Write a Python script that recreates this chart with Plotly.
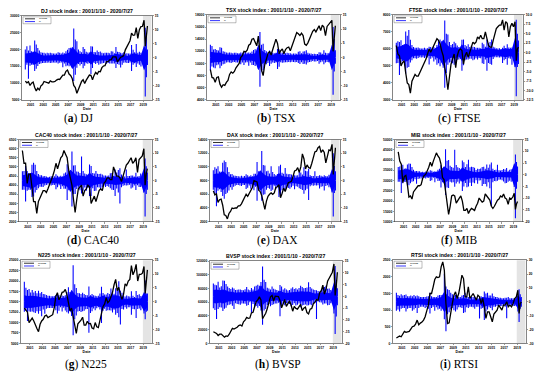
import plotly.graph_objects as go

W, H = 550, 381

NAMES = ["DJ", "TSX", "FTSE", "CAC40", "DAX", "MIB", "N225", "BVSP", "RTSI"]
LETTERS = ["a", "b", "c", "d", "e", "f", "g", "h", "i"]
TITLE_SUFFIX = " stock index : 2001/1/10 - 2020/7/27"

# quarterly sampling dates (decimal years) and half-year dates for the dense return core
DATES_Q = [round(2001.03 + 0.25 * i, 2) for i in range(77)] + [2020.22, 2020.40, 2020.57]
DATES_H = [round(2001.03 + 0.5 * i, 2) for i in range(40)]

YEAR_LABELS = ["2001", "2003", "2005", "2007", "2009", "2011", "2013", "2015", "2017", "2019"]
YEAR_POS = [2001.9, 2003.9, 2005.9, 2007.9, 2009.9, 2011.9, 2013.9, 2015.9, 2017.9, 2019.9]

# ---------------- closing prices (quarterly readings) ----------------
CLOSE_DJ = [10600, 10100, 10400, 9300, 10000, 10300, 8700, 7700, 8500, 8000, 9200, 9600,
            10500, 10400, 10200, 10000, 10700, 10400, 10400, 10500, 10900, 11200, 11100, 11900,
            12400, 12400, 13500, 13900, 12700, 12300, 11400, 9300, 8700, 7000, 8400, 9700,
            10500, 11000, 9900, 10900, 11700, 12400, 12300, 11000, 12300, 13200, 12700, 13500,
            13400, 14600, 15100, 15200, 16400, 16400, 16900, 17000, 17800, 17800, 17800, 16300,
            17000, 17700, 17900, 18200, 19900, 20700, 21400, 22600, 24900, 24200, 24300, 26500,
            23300, 25900, 26800, 26900, 28700, 21000, 24000, 27000]
CLOSE_TSX = [9000, 7700, 7600, 6900, 7700, 7800, 6600, 6100, 6500, 6400, 6900, 7200,
             8200, 8600, 8400, 8700, 9300, 9600, 10000, 11000, 11300, 12000, 11900, 12200,
             13000, 13200, 14000, 14100, 13500, 12900, 14500, 11800, 8900, 8000, 9800, 10700,
             11600, 12000, 11400, 12300, 13300, 14000, 13300, 11600, 12100, 12400, 11600, 12300,
             12600, 12700, 12100, 12800, 13600, 14300, 15100, 14900, 14600, 15000, 14600, 13200,
             13000, 13400, 14100, 14600, 15300, 15600, 15200, 15700, 16200, 15400, 16300, 16000,
             14600, 16100, 16400, 16700, 17100, 12000, 15200, 16200]
CLOSE_FTSE = [6200, 5700, 5600, 5000, 5200, 5300, 4600, 4000, 3900, 3400, 4100, 4300,
              4500, 4400, 4400, 4600, 4800, 4900, 5200, 5400, 5700, 6000, 5800, 6000,
              6200, 6300, 6600, 6500, 6300, 5900, 5600, 4900, 4400, 3600, 4300, 5100,
              5400, 5700, 4900, 5600, 5900, 6000, 5900, 5100, 5600, 5800, 5500, 5800,
              6000, 6400, 6300, 6400, 6700, 6600, 6800, 6600, 6600, 7000, 6600, 6200,
              6100, 6100, 6500, 6900, 7200, 7300, 7400, 7400, 7700, 7100, 7600, 7500,
              6700, 7300, 7500, 7300, 7600, 5300, 6000, 6100]
CLOSE_CAC40 = [5900, 5200, 5200, 4100, 4600, 4600, 3900, 3100, 3100, 2450, 3100, 3300,
               3600, 3700, 3700, 3600, 3800, 4000, 4300, 4500, 4800, 5200, 4900, 5200,
               5500, 5600, 5900, 5700, 5500, 4800, 4400, 4000, 3200, 2500, 3200, 3800,
               3900, 4000, 3400, 3700, 3800, 4000, 3900, 3000, 3200, 3400, 3100, 3400,
               3700, 3800, 3700, 4100, 4200, 4400, 4400, 4300, 4300, 5000, 4800, 4500,
               4500, 4400, 4200, 4500, 4900, 5100, 5200, 5400, 5500, 5200, 5300, 5500,
               4700, 5400, 5500, 5600, 6000, 4000, 4600, 4900]
CLOSE_DAX = [6500, 5900, 6100, 4800, 5200, 5300, 4400, 3000, 2900, 2400, 3200, 3500,
             4000, 3900, 4000, 4000, 4300, 4300, 4600, 5000, 5400, 6000, 5700, 6100,
             6700, 7000, 8000, 7900, 7800, 6600, 6400, 5800, 4800, 3800, 5000, 5700,
             6000, 6200, 6000, 6200, 7000, 7100, 7400, 5500, 6100, 6900, 6400, 7200,
             7700, 7800, 7900, 8600, 9400, 9500, 9900, 9200, 10000, 11900, 11200, 9700,
             10300, 9900, 9800, 10500, 11500, 12200, 12300, 12800, 13000, 12100, 12500, 12100,
             10600, 11500, 12500, 12400, 13300, 8900, 11500, 12800]
CLOSE_MIB = [44000, 39500, 38000, 29000, 32000, 32500, 28000, 22000, 22500, 21000, 24500, 25500,
             27000, 27500, 27500, 28000, 31000, 32500, 33000, 34500, 36500, 39000, 37000, 39500,
             41500, 43500, 42000, 41000, 38000, 31500, 30500, 24000, 18500, 13500, 17500, 22500,
             23000, 22500, 19000, 20500, 21500, 22500, 20000, 15500, 15500, 16500, 14000, 15500,
             16500, 16000, 15500, 17500, 19000, 21500, 20500, 19500, 20000, 23500, 22500, 21500,
             20500, 17500, 16500, 17500, 19500, 20500, 21000, 22500, 22000, 23500, 21500, 21000,
             18500, 21500, 21000, 22000, 23800, 16000, 18600, 19800]
CLOSE_N225 = [13500, 12900, 12500, 10000, 10500, 11100, 10400, 9300, 8600, 7800, 9600, 10400,
              10800, 11600, 11800, 11200, 11500, 11700, 11900, 13600, 16300, 17200, 15500, 16200,
              17300, 17400, 18000, 16800, 15000, 12800, 13500, 11200, 8900, 7400, 9700, 10100,
              10600, 11300, 9400, 9400, 10300, 9700, 9800, 8700, 8500, 10000, 9000, 8800,
              10700, 12400, 13900, 14500, 16000, 14800, 15200, 16200, 17300, 19100, 20400, 17700,
              18500, 16800, 15600, 16800, 19300, 18900, 20000, 20400, 23700, 21500, 22400, 24000,
              20000, 21600, 21600, 21900, 23500, 17000, 21000, 22700]
CLOSE_BVSP = [17000, 15500, 14500, 11500, 13500, 13500, 11500, 9000, 10900, 10300, 13400, 17000,
              22000, 21000, 22000, 23500, 26000, 27000, 25500, 31500, 34000, 38000, 36500, 37000,
              44500, 45500, 53500, 61000, 63500, 68000, 63500, 36000, 40000, 44000, 51000, 62000,
              68000, 70000, 62000, 69000, 69000, 68500, 62500, 52000, 58000, 64000, 54000, 59000,
              62000, 56000, 47000, 54000, 51000, 50000, 53000, 57000, 48000, 51500, 53000, 45000,
              43000, 50000, 51000, 58000, 60000, 64000, 63000, 74000, 77000, 85000, 72000, 79000,
              91000, 95000, 100000, 104000, 116000, 70000, 85000, 104000]
CLOSE_RTSI = [160, 180, 220, 200, 270, 360, 330, 340, 360, 430, 500, 520,
              580, 700, 560, 610, 640, 700, 800, 980, 1150, 1500, 1500, 1700,
              1920, 2000, 1980, 2000, 2300, 2450, 2200, 1200, 600, 620, 950, 1200,
              1450, 1550, 1350, 1500, 1770, 2050, 1950, 1400, 1400, 1700, 1350, 1450,
              1500, 1400, 1300, 1450, 1400, 1200, 1350, 1100, 750, 950, 950, 800,
              650, 880, 930, 1000, 1150, 1050, 1000, 1150, 1150, 1250, 1100, 1150,
              1100, 1200, 1350, 1400, 1600, 900, 1200, 1250]

# ---------------- returns R (%): quarterly highs / lows ----------------
R_UP_DJ = [3.0, 4.2, 2.6, 4.4, 2.4, 2.2, 6.2, 4.8, 3.5, 2.6, 2.0, 1.8, 1.8, 1.6, 1.8, 1.7,
           1.8, 1.7, 1.6, 1.6, 1.6, 2.0, 1.8, 1.6, 1.9, 1.7, 2.4, 2.9, 3.5, 3.6, 2.8, 10.5,
           6.6, 5.9, 3.0, 2.4, 2.0, 3.9, 3.2, 2.2, 1.9, 1.9, 4.2, 4.1, 2.1, 2.0, 2.6, 2.1,
           2.3, 1.8, 1.7, 1.8, 1.8, 1.8, 1.7, 2.4, 2.3, 1.7, 3.9, 2.2, 2.1, 1.8, 1.7, 2.0,
           1.6, 1.7, 1.6, 1.6, 4.6, 2.9, 2.0, 5.0, 1.8, 2.2, 1.8, 1.7, 1.9, 10.8, 7.5, 3.0]
R_DN_DJ = [-4.1, -2.4, -7.4, -2.8, -2.4, -2.5, -4.7, -3.9, -2.9, -2.2, -2.0, -1.8, -1.8, -1.7, -1.7, -1.6,
           -1.8, -1.7, -1.6, -1.7, -1.6, -2.0, -1.7, -1.6, -3.3, -2.0, -3.0, -2.7, -3.0, -2.6, -2.9, -8.2,
           -6.0, -3.5, -2.2, -2.7, -2.2, -3.7, -2.8, -1.9, -2.1, -1.8, -5.7, -3.6, -1.8, -2.2, -1.8, -2.4,
           -2.1, -2.0, -1.8, -1.7, -2.1, -1.8, -2.0, -2.0, -2.0, -2.0, -3.6, -2.2, -2.4, -3.4, -2.4, -1.7,
           -1.6, -1.8, -1.8, -1.6, -4.7, -2.4, -1.9, -3.2, -2.0, -2.4, -3.1, -2.0, -3.2, -13.8, -6.9, -2.5]
R_CORE_DJ = [1.6, 1.8, 1.8, 2.4, 1.6, 1.1, 0.9, 0.9, 0.9, 0.9, 0.9, 1.0, 1.1, 1.5, 1.8, 4.0, 2.8, 1.6, 1.3, 1.6,
             1.1, 2.4, 1.2, 1.0, 0.9, 0.9, 0.9, 0.9, 1.0, 1.5, 1.3, 0.9, 0.7, 0.7, 1.5, 1.7, 1.2, 1.0, 4.5, 2.0]

R_UP_TSX = [4.5, 4.0, 2.8, 3.0, 2.6, 2.4, 3.6, 3.4, 2.2, 2.0, 1.7, 1.6, 1.7, 1.6, 1.5, 1.6,
            1.6, 1.5, 1.5, 1.7, 1.6, 2.0, 1.8, 1.6, 1.7, 1.6, 2.1, 2.6, 2.9, 2.0, 3.4, 9.0,
            4.5, 4.8, 2.6, 2.2, 1.8, 2.4, 2.0, 1.6, 1.5, 1.6, 3.0, 2.8, 1.7, 1.6, 1.7, 1.5,
            1.6, 1.5, 1.5, 1.3, 1.4, 1.4, 1.3, 2.0, 2.2, 1.5, 2.1, 2.2, 2.5, 1.6, 1.4, 1.4,
            1.2, 1.3, 1.2, 1.2, 1.8, 1.7, 1.3, 2.5, 1.6, 1.5, 1.5, 1.4, 1.5, 10.7, 6.5, 2.5]
R_DN_TSX = [-4.5, -3.2, -3.6, -3.8, -2.8, -2.5, -3.8, -2.9, -2.4, -2.2, -1.8, -1.7, -1.8, -2.0, -1.7, -1.6,
            -1.8, -1.8, -1.7, -2.4, -1.8, -2.7, -1.8, -1.7, -2.9, -1.8, -2.7, -2.7, -3.0, -2.2, -4.0, -10.3,
            -5.0, -4.5, -2.4, -2.4, -2.0, -3.0, -2.2, -1.8, -2.0, -1.8, -4.1, -3.3, -1.7, -1.9, -1.8, -1.7,
            -1.7, -1.6, -1.7, -1.5, -1.6, -1.7, -1.6, -2.0, -2.3, -1.7, -2.3, -2.2, -2.5, -1.8, -1.6, -1.5,
            -1.3, -1.4, -1.4, -1.3, -2.2, -1.7, -1.4, -2.4, -1.8, -1.6, -1.7, -1.6, -1.9, -13.2, -5.0, -2.2]
R_CORE_TSX = [2.0, 1.8, 1.6, 1.7, 1.2, 1.0, 0.9, 0.9, 0.9, 1.0, 1.0, 1.0, 1.0, 1.2, 1.5, 4.5, 2.5, 1.6, 1.1, 1.1,
              1.0, 1.8, 1.0, 0.9, 0.8, 0.8, 0.8, 0.9, 1.1, 1.1, 1.1, 0.8, 0.6, 0.6, 0.9, 1.0, 0.8, 0.8, 4.5, 1.8]

R_UP_FTSE = [2.6, 3.0, 2.8, 3.3, 2.0, 2.2, 5.6, 4.5, 6.0, 3.4, 2.0, 1.5, 1.3, 1.3, 1.4, 1.2,
             1.1, 1.1, 1.3, 1.1, 1.2, 1.6, 1.5, 1.2, 1.5, 1.2, 2.0, 3.0, 3.5, 3.0, 3.0, 8.5,
             5.0, 4.8, 2.8, 2.0, 2.3, 2.9, 2.5, 1.9, 1.5, 1.5, 3.4, 3.5, 2.0, 1.7, 2.2, 1.5,
             1.8, 1.6, 1.5, 1.3, 1.3, 1.3, 1.2, 2.6, 2.2, 1.6, 3.5, 2.5, 2.8, 3.5, 1.6, 1.4,
             1.2, 1.1, 1.2, 1.0, 1.3, 1.8, 1.2, 2.2, 1.4, 1.3, 1.4, 1.8, 1.6, 8.7, 5.0, 3.2]
R_DN_FTSE = [-2.8, -2.7, -5.9, -2.6, -2.2, -2.4, -5.5, -4.0, -3.8, -2.6, -2.0, -1.5, -1.5, -1.6, -1.4, -1.2,
             -1.3, -1.2, -1.4, -1.2, -1.3, -3.1, -1.6, -1.3, -2.3, -1.8, -3.2, -2.8, -3.6, -2.6, -4.0, -9.3,
             -5.4, -3.2, -2.6, -2.5, -2.8, -3.2, -2.6, -1.9, -1.8, -1.6, -4.8, -3.3, -2.0, -1.8, -1.8, -1.6,
             -1.6, -2.0, -1.8, -1.5, -1.8, -1.4, -1.5, -2.8, -3.0, -1.8, -4.8, -2.7, -3.0, -3.2, -1.7, -1.2,
             -1.2, -1.2, -1.3, -1.2, -2.7, -2.0, -1.7, -3.2, -1.5, -1.6, -3.2, -2.1, -3.8, -11.5, -3.8, -3.0]
R_CORE_FTSE = [1.5, 1.7, 1.8, 2.4, 2.0, 1.1, 0.8, 0.8, 0.7, 0.7, 0.8, 0.9, 0.9, 1.5, 1.9, 3.5, 2.3, 1.5, 1.3, 1.5,
               1.0, 2.2, 1.1, 0.9, 0.9, 0.9, 0.8, 1.0, 1.0, 1.4, 1.2, 1.0, 0.7, 0.7, 1.0, 1.2, 1.0, 1.0, 4.0, 1.8]

R_UP_CAC40 = [3.4, 3.5, 5.3, 3.5, 2.8, 2.8, 5.8, 6.5, 5.8, 3.5, 2.4, 2.0, 2.0, 1.6, 1.7, 1.5,
              1.3, 1.4, 1.6, 1.4, 1.6, 2.3, 1.8, 1.5, 1.8, 1.5, 2.6, 3.0, 6.0, 3.6, 3.3, 10.6,
              5.5, 5.6, 3.3, 3.2, 2.8, 8.8, 3.5, 2.6, 2.3, 2.1, 5.9, 5.3, 2.8, 2.6, 3.5, 2.5,
              2.4, 2.5, 2.2, 1.9, 1.9, 1.8, 1.9, 2.7, 2.8, 1.8, 4.1, 3.0, 3.9, 4.5, 2.2, 1.6,
              1.5, 4.1, 1.7, 1.7, 1.9, 1.9, 1.5, 2.9, 1.5, 1.7, 2.6, 2.1, 2.5, 8.1, 5.2, 3.0]
R_DN_CAC40 = [-3.3, -3.3, -7.6, -3.7, -3.3, -3.3, -6.0, -5.8, -4.3, -3.4, -2.8, -2.2, -2.2, -2.3, -1.8, -1.6,
              -1.4, -1.5, -1.8, -1.6, -1.6, -3.2, -2.4, -1.7, -3.1, -2.1, -3.0, -3.0, -7.1, -3.5, -4.0, -9.5,
              -5.0, -4.9, -3.1, -2.6, -3.5, -4.7, -3.7, -2.5, -3.7, -2.5, -5.6, -5.6, -2.8, -3.8, -3.7, -2.4,
              -2.5, -3.0, -2.4, -1.8, -2.3, -2.0, -2.2, -2.8, -3.3, -3.4, -5.6, -2.9, -4.3, -8.4, -2.4, -1.9,
              -1.7, -1.8, -1.7, -1.5, -2.9, -2.5, -1.8, -3.4, -1.7, -2.3, -2.3, -2.0, -4.3, -13.1, -4.9, -3.3]
R_CORE_CAC40 = [2.0, 2.2, 2.4, 3.0, 2.3, 1.3, 1.1, 1.0, 0.9, 0.9, 1.0, 1.1, 1.2, 1.6, 2.2, 4.0, 2.8, 1.9, 1.9, 1.7,
                1.5, 3.0, 1.8, 1.4, 1.2, 1.1, 1.0, 1.2, 1.3, 1.6, 1.4, 1.3, 0.8, 0.8, 1.0, 1.2, 1.1, 1.0, 4.5, 2.0]

R_UP_DAX = [3.8, 4.9, 4.3, 5.2, 3.3, 3.2, 6.5, 7.3, 6.8, 4.9, 3.1, 2.3, 2.4, 1.9, 1.8, 1.7,
            1.6, 1.5, 1.8, 1.5, 1.7, 2.3, 2.0, 1.6, 2.0, 1.6, 2.5, 2.5, 6.8, 3.4, 3.4, 10.8,
            5.7, 5.5, 3.4, 3.6, 2.6, 5.2, 3.1, 2.4, 2.0, 2.4, 5.2, 5.8, 2.9, 2.5, 4.6, 2.5,
            2.3, 2.4, 2.2, 1.8, 2.0, 1.9, 2.0, 3.1, 3.0, 2.2, 4.9, 3.6, 3.4, 4.3, 2.0, 1.7,
            1.7, 3.4, 1.6, 1.7, 2.0, 1.8, 1.5, 2.0, 1.7, 1.6, 2.1, 1.8, 2.3, 10.0, 5.3, 3.4]
R_DN_DAX = [-3.3, -4.6, -9.4, -3.7, -3.2, -4.2, -5.6, -6.6, -4.9, -4.4, -3.6, -2.4, -3.3, -2.2, -1.9, -1.6,
            -1.6, -1.8, -2.0, -1.6, -1.6, -3.1, -2.6, -1.8, -3.0, -2.1, -3.5, -2.2, -7.4, -3.1, -3.1, -7.4,
            -5.2, -5.0, -3.3, -2.7, -3.0, -3.8, -3.3, -1.9, -3.2, -2.0, -6.0, -5.4, -3.5, -3.5, -3.4, -2.3,
            -2.7, -3.0, -2.4, -1.9, -3.2, -2.1, -2.2, -2.8, -3.1, -3.4, -4.8, -3.5, -3.0, -7.1, -2.1, -1.7,
            -1.9, -1.7, -1.8, -1.7, -2.9, -2.2, -2.1, -3.6, -2.0, -1.7, -2.4, -2.2, -4.3, -13.1, -4.5, -3.6]
R_CORE_DAX = [2.3, 2.6, 2.6, 3.5, 2.6, 1.5, 1.2, 1.0, 0.9, 0.9, 1.0, 1.1, 1.2, 1.5, 2.0, 3.8, 2.6, 1.7, 1.5, 1.4,
              1.4, 2.8, 1.7, 1.4, 1.2, 1.0, 1.0, 1.1, 1.3, 1.7, 1.4, 1.3, 0.8, 0.8, 1.0, 1.2, 1.0, 1.0, 4.3, 2.0]

R_UP_MIB = [3.3, 3.5, 3.8, 4.3, 2.6, 2.8, 4.4, 4.8, 4.7, 3.3, 2.1, 1.6, 1.6, 1.5, 1.5, 1.2,
            1.3, 1.1, 1.4, 1.3, 1.4, 1.9, 1.7, 1.3, 1.5, 1.3, 2.1, 2.5, 4.0, 2.6, 3.2, 10.9,
            6.0, 6.3, 3.8, 3.3, 3.0, 10.7, 4.1, 3.2, 2.9, 2.2, 6.1, 5.3, 3.3, 4.5, 6.4, 3.2,
            3.4, 3.3, 3.0, 2.0, 2.5, 2.4, 2.7, 3.3, 3.4, 2.5, 4.4, 3.0, 4.4, 5.2, 2.5, 2.0,
            2.1, 4.3, 1.9, 1.8, 2.0, 2.4, 2.2, 2.9, 1.7, 2.1, 2.3, 2.4, 2.7, 8.6, 5.4, 3.5]
R_DN_MIB = [-3.0, -3.0, -7.8, -3.6, -3.0, -3.1, -4.6, -4.5, -3.6, -3.0, -2.8, -1.9, -3.8, -1.8, -1.6, -1.6,
            -1.2, -1.4, -1.6, -1.3, -1.4, -2.7, -2.4, -1.3, -3.2, -1.6, -2.7, -2.6, -5.4, -3.2, -3.7, -8.6,
            -5.4, -5.6, -3.0, -3.3, -3.2, -5.1, -3.7, -3.0, -3.7, -2.8, -6.9, -5.0, -3.5, -5.3, -5.0, -3.4,
            -4.8, -3.3, -3.6, -2.3, -3.8, -2.5, -2.4, -4.8, -4.0, -4.0, -5.0, -3.2, -5.8, -13.3, -3.2, -2.7,
            -2.8, -2.6, -2.1, -2.0, -2.3, -2.9, -3.6, -3.5, -3.0, -2.6, -3.0, -2.8, -5.2, -18.5, -6.0, -3.0]
R_CORE_MIB = [1.8, 2.0, 2.0, 2.4, 2.0, 1.2, 0.9, 0.8, 0.7, 0.7, 0.8, 0.9, 1.0, 1.4, 2.0, 3.6, 2.8, 1.8, 1.7, 1.8,
              1.6, 3.2, 2.2, 1.8, 1.4, 1.2, 1.1, 1.4, 1.5, 1.9, 1.8, 1.5, 1.0, 1.0, 1.2, 1.3, 1.2, 1.2, 5.0, 2.2]

R_UP_N225 = [7.2, 5.1, 4.3, 4.6, 3.4, 4.3, 3.4, 3.9, 3.1, 4.0, 3.1, 3.5, 2.8, 2.7, 2.5, 2.2,
             2.2, 2.0, 2.0, 2.1, 2.5, 2.8, 2.4, 2.1, 2.3, 2.1, 2.4, 3.5, 5.3, 3.5, 3.7, 13.2,
             6.3, 5.0, 3.2, 3.1, 2.8, 3.3, 2.8, 2.5, 2.4, 5.5, 2.4, 2.8, 2.4, 2.2, 2.0, 2.2,
             3.0, 5.4, 3.2, 2.6, 2.6, 3.2, 2.8, 4.8, 3.8, 2.9, 4.9, 4.0, 7.4, 4.0, 3.3, 2.3,
             1.9, 2.3, 2.0, 1.9, 3.8, 2.2, 1.7, 3.9, 2.5, 2.7, 2.1, 1.9, 2.4, 7.7, 3.0, 3.0]
R_DN_N225 = [-3.6, -3.3, -6.9, -3.5, -3.6, -3.5, -3.8, -4.0, -3.4, -4.3, -3.3, -5.2, -2.8, -4.3, -2.5, -2.2,
             -2.2, -2.2, -2.2, -2.2, -3.0, -4.2, -3.2, -2.0, -3.5, -2.1, -3.1, -3.8, -4.2, -3.4, -5.1, -12.1,
             -6.3, -4.9, -3.5, -3.3, -3.7, -3.4, -3.2, -2.7, -2.6, -11.2, -4.0, -3.4, -2.4, -3.0, -2.3, -2.0,
             -2.8, -7.6, -3.2, -2.5, -3.2, -3.0, -3.0, -3.1, -3.9, -2.9, -4.7, -4.0, -5.6, -8.2, -2.6, -2.8,
             -2.0, -2.5, -2.0, -2.0, -4.7, -2.6, -2.7, -5.8, -2.6, -2.4, -3.0, -1.9, -4.2, -6.3, -3.6, -3.2]
R_CORE_N225 = [2.4, 2.1, 2.2, 2.2, 2.0, 1.7, 1.5, 1.3, 1.2, 1.5, 1.6, 1.3, 1.4, 1.6, 2.0, 4.4, 2.8, 1.8, 1.6, 1.6,
               1.5, 2.2, 1.6, 1.4, 1.7, 2.3, 1.7, 1.9, 2.4, 2.4, 2.2, 1.4, 1.1, 1.1, 1.4, 1.4, 1.3, 1.2, 3.5, 2.0]

R_UP_BVSP = [5.5, 5.0, 4.8, 6.3, 3.8, 4.3, 6.8, 6.7, 5.3, 4.2, 3.6, 3.2, 3.8, 3.4, 2.8, 2.9,
             3.0, 3.0, 2.8, 2.6, 3.1, 4.0, 3.0, 2.6, 3.6, 3.0, 4.2, 4.6, 5.0, 4.6, 6.2, 12.8,
             7.1, 6.2, 3.7, 3.4, 3.0, 4.2, 3.3, 3.0, 2.8, 2.4, 4.9, 4.2, 3.0, 3.5, 3.0, 2.5,
             2.8, 3.4, 3.9, 3.2, 3.5, 3.0, 3.6, 4.6, 4.0, 3.5, 3.6, 3.8, 6.1, 4.0, 3.4, 3.0,
             2.8, 2.6, 2.3, 2.1, 2.5, 3.8, 4.0, 4.6, 3.3, 3.4, 2.7, 2.3, 2.8, 13.0, 6.5, 3.5]
R_DN_BVSP = [-5.0, -5.8, -9.6, -5.4, -4.6, -4.7, -6.2, -5.2, -4.8, -3.8, -3.5, -3.3, -4.0, -5.4, -2.9, -3.2,
             -3.3, -3.5, -3.0, -3.0, -3.1, -4.0, -3.6, -2.5, -7.0, -3.2, -4.5, -4.1, -4.8, -4.1, -6.0, -12.1,
             -6.0, -5.3, -3.6, -3.2, -4.2, -3.6, -3.3, -3.0, -3.0, -2.7, -8.4, -3.7, -3.0, -3.8, -2.8, -2.9,
             -3.2, -4.2, -3.6, -2.9, -3.9, -3.5, -3.0, -4.6, -3.9, -3.6, -3.4, -3.9, -3.8, -3.4, -3.8, -3.0,
             -2.5, -9.6, -2.2, -2.5, -2.6, -3.4, -3.0, -3.0, -3.8, -3.6, -2.9, -2.7, -7.3, -16.0, -8.5, -3.8]
R_CORE_BVSP = [2.8, 3.0, 2.6, 3.0, 2.6, 2.0, 2.0, 1.6, 1.8, 1.7, 2.0, 1.7, 2.0, 2.3, 2.6, 4.8, 3.0, 2.2, 1.8, 1.7,
               1.6, 2.4, 1.8, 1.5, 1.7, 1.9, 1.8, 2.0, 2.2, 2.0, 2.1, 1.7, 1.3, 1.4, 1.7, 1.9, 1.5, 1.4, 6.0, 2.6]

R_UP_RTSI = [6.5, 5.0, 4.3, 5.5, 4.5, 5.0, 5.3, 4.0, 4.0, 4.5, 4.0, 5.0, 4.0, 4.5, 4.0, 3.5,
             3.5, 3.5, 3.5, 3.8, 4.0, 6.5, 4.0, 3.5, 3.5, 3.5, 4.5, 5.0, 5.0, 4.5, 20.2, 11.0,
             9.0, 8.5, 6.5, 5.5, 4.5, 5.0, 4.5, 3.5, 3.5, 4.5, 5.0, 6.5, 3.8, 3.5, 3.5, 3.5,
             3.5, 3.5, 3.0, 2.5, 3.5, 4.0, 3.5, 7.5, 6.0, 6.5, 4.5, 4.5, 6.0, 4.0, 3.5, 3.5,
             3.0, 3.0, 2.5, 2.5, 3.0, 3.0, 3.5, 2.5, 2.5, 2.5, 2.5, 2.5, 3.0, 9.0, 5.5, 3.5]
R_DN_RTSI = [-6.5, -5.5, -7.0, -5.0, -4.5, -4.5, -7.0, -5.0, -4.5, -4.5, -6.5, -5.5, -4.5, -8.0, -4.5, -3.5,
             -3.5, -3.5, -4.5, -4.0, -5.0, -8.5, -4.5, -3.5, -6.5, -4.0, -5.5, -5.0, -6.5, -4.5, -12.5, -21.2,
             -9.0, -7.5, -5.5, -4.5, -6.0, -7.0, -5.5, -4.0, -4.0, -4.5, -8.0, -7.5, -4.0, -4.5, -3.5, -3.5,
             -4.0, -5.0, -3.5, -3.5, -12.0, -5.0, -4.5, -13.1, -7.0, -5.5, -4.0, -4.5, -6.0, -3.5, -3.5, -3.0,
             -3.0, -3.0, -3.0, -2.5, -3.5, -11.8, -3.0, -3.0, -2.5, -3.0, -3.0, -2.5, -7.0, -14.5, -5.0, -3.5]
R_CORE_RTSI = [3.0, 2.6, 2.6, 2.8, 2.6, 2.6, 2.4, 2.0, 1.8, 2.0, 2.2, 2.4, 2.2, 2.6, 3.5, 7.5, 4.5, 3.0, 2.6, 2.2,
               2.2, 2.8, 2.0, 1.7, 1.6, 1.6, 1.8, 3.5, 3.2, 2.4, 2.6, 1.8, 1.6, 1.5, 1.5, 1.6, 1.4, 1.3, 5.0, 2.2]

# ---------------- axis ticks ----------------
LEFT_TICKS = {
    "DJ": [5000, 10000, 15000, 20000, 25000, 30000],
    "TSX": [4000, 6000, 8000, 10000, 12000, 14000, 16000, 18000],
    "FTSE": [3000, 4000, 5000, 6000, 7000, 8000],
    "CAC40": [2000, 2500, 3000, 3500, 4000, 4500, 5000, 5500, 6000, 6500],
    "DAX": [2000, 4000, 6000, 8000, 10000, 12000, 14000],
    "MIB": [10000, 15000, 20000, 25000, 30000, 35000, 40000, 45000, 50000],
    "N225": [5000, 7500, 10000, 12500, 15000, 17500, 20000, 22500, 25000],
    "BVSP": [0, 20000, 40000, 60000, 80000, 100000, 120000],
    "RTSI": [0, 500, 1000, 1500, 2000, 2500],
}
RIGHT_TICKS = {
    "DJ": [-15, -10, -5, 0, 5, 10, 15],
    "TSX": [-15, -10, -5, 0, 5, 10, 15],
    "FTSE": [-12.5, -10.0, -7.5, -5.0, -2.5, 0.0, 2.5, 5.0, 7.5, 10.0],
    "CAC40": [-15, -10, -5, 0, 5, 10, 15],
    "DAX": [-15, -10, -5, 0, 5, 10, 15],
    "MIB": [-20, -15, -10, -5, 0, 5, 10, 15],
    "N225": [-15, -10, -5, 0, 5, 10, 15],
    "BVSP": [-20, -15, -10, -5, 0, 5, 10, 15],
    "RTSI": [-30, -20, -10, 0, 10, 20, 30],
}
RIGHT_TEXT = {
    "FTSE": ["-12.5", "-10.0", "-7.5", "-5.0", "-2.5", "0.0", "2.5", "5.0", "7.5", "10.0"],
}

CLOSES = [CLOSE_DJ, CLOSE_TSX, CLOSE_FTSE, CLOSE_CAC40, CLOSE_DAX, CLOSE_MIB, CLOSE_N225, CLOSE_BVSP, CLOSE_RTSI]
R_UPS = [R_UP_DJ, R_UP_TSX, R_UP_FTSE, R_UP_CAC40, R_UP_DAX, R_UP_MIB, R_UP_N225, R_UP_BVSP, R_UP_RTSI]
R_DNS = [R_DN_DJ, R_DN_TSX, R_DN_FTSE, R_DN_CAC40, R_DN_DAX, R_DN_MIB, R_DN_N225, R_DN_BVSP, R_DN_RTSI]
R_CORES = [R_CORE_DJ, R_CORE_TSX, R_CORE_FTSE, R_CORE_CAC40, R_CORE_DAX, R_CORE_MIB, R_CORE_N225,
           R_CORE_BVSP, R_CORE_RTSI]

# ---------------- layout (pixel frames of each plot area) ----------------
FRAMES = [
    (22, 152, 14, 99), (207, 340, 13, 99), (393, 523, 13, 99),
    (19, 152, 139, 222), (210, 340, 139, 222), (395, 522, 139, 222),
    (21, 152, 261, 345), (210, 342, 262, 345), (393, 526, 261, 345),
]
CAPTION_POS = [(62, 118), (255, 118), (436, 118), (65, 241), (255, 241), (439, 241),
               (63, 366), (253, 366), (438, 366)]
X_RANGE = [2000.5, 2021.3]
SHADE = [2019.85, 2021.2]

BLUE = "#0000FF"
SANS = "Liberation Sans, Arial, sans-serif"
SERIF = "Liberation Serif, Times New Roman, serif"


def px(x):
    return x / W


def py(y):
    return 1 - y / H


fig = go.Figure()
layout = dict(width=W, height=H, margin=dict(l=0, r=0, t=0, b=0), autosize=False,
              paper_bgcolor="white", plot_bgcolor="white", showlegend=False,
              barmode="overlay", shapes=[], annotations=[])

tickfont = dict(family=SANS, size=3.3, color="black", weight="bold")
axis_common = dict(showgrid=False, zeroline=False, showline=True, linecolor="#333",
                   linewidth=0.6, ticks="outside", ticklen=1.5, tickwidth=0.5,
                   tickcolor="#333", tickfont=tickfont, fixedrange=True)

for k, name in enumerate(NAMES):
    n = k + 1
    fx0, fx1, fy0, fy1 = FRAMES[k]
    xid = "x" if n == 1 else f"x{n}"
    xkey = "xaxis" if n == 1 else f"xaxis{n}"
    r_n = 2 * k + 1
    l_n = 2 * k + 2
    rid = "y" if r_n == 1 else f"y{r_n}"
    rkey = "yaxis" if r_n == 1 else f"yaxis{r_n}"
    lid = f"y{l_n}"
    lkey = f"yaxis{l_n}"

    lt = LEFT_TICKS[name]
    rt = RIGHT_TICKS[name]

    layout[xkey] = dict(axis_common, domain=[px(fx0), px(fx1)], range=X_RANGE, anchor=rid,
                        tickmode="array", tickvals=YEAR_POS, ticktext=YEAR_LABELS, mirror=True,
                        title=dict(text="<b>Date</b>", font=dict(family=SANS, size=3.6, color="black"),
                                   standoff=0.5))
    layout[rkey] = dict(axis_common, domain=[py(fy1), py(fy0)], range=[rt[0], rt[-1]], anchor=xid,
                        side="right", tickmode="array", tickvals=rt,
                        ticktext=RIGHT_TEXT.get(name, [str(v) for v in rt]))
    layout[lkey] = dict(axis_common, range=[lt[0], lt[-1]], anchor=xid, overlaying=rid,
                        side="left", tickmode="array", tickvals=lt, ticktext=[str(v) for v in lt])

    # shaded final period
    layout["shapes"].append(dict(type="rect", xref=xid, yref=f"{rid} domain", x0=SHADE[0], x1=SHADE[1],
                                 y0=0, y1=1, fillcolor="#e4e4e4", line=dict(width=0), layer="below"))

    core = R_CORES[k]
    fig.add_trace(go.Scatter(x=DATES_H + DATES_H[::-1], y=core + [-v for v in core[::-1]],
                             fill="toself", fillcolor=BLUE, mode="lines", line=dict(width=0, color=BLUE),
                             xaxis=xid, yaxis=rid, hoverinfo="skip"))
    fig.add_trace(go.Bar(x=DATES_Q + DATES_Q, y=R_UPS[k] + R_DNS[k], width=0.17,
                         marker=dict(color=BLUE, line=dict(width=0)), xaxis=xid, yaxis=rid,
                         hoverinfo="skip"))
    fig.add_trace(go.Scatter(x=DATES_Q, y=CLOSES[k], mode="lines", line=dict(color="black", width=1.3),
                             xaxis=xid, yaxis=lid, hoverinfo="skip"))

    # title
    layout["annotations"].append(dict(text=f"<b>{name}{TITLE_SUFFIX}</b>", x=px((fx0 + fx1) / 2),
                                      y=py(fy0 - 5), xref="paper", yref="paper", showarrow=False,
                                      xanchor="center", yanchor="middle",
                                      font=dict(family=SANS, size=5.2, color="black")))
    # caption
    cx, cy = CAPTION_POS[k]
    layout["annotations"].append(dict(text=f"(<b>{LETTERS[k]}</b>) {name}", x=px(cx), y=py(cy),
                                      xref="paper", yref="paper", showarrow=False, xanchor="left",
                                      yanchor="middle", font=dict(family=SERIF, size=11.5, color="black")))
    # small legend box
    layout["shapes"].append(dict(type="rect", xref="paper", yref="paper", x0=px(fx0 + 1), x1=px(fx0 + 29),
                                 y0=py(fy0 + 8), y1=py(fy0 + 1), fillcolor="white",
                                 line=dict(color="#555", width=0.4), layer="above"))
    layout["shapes"].append(dict(type="line", xref="paper", yref="paper", x0=px(fx0 + 3), x1=px(fx0 + 13),
                                 y0=py(fy0 + 3), y1=py(fy0 + 3), line=dict(color="black", width=0.8),
                                 layer="above"))
    layout["shapes"].append(dict(type="line", xref="paper", yref="paper", x0=px(fx0 + 3), x1=px(fx0 + 13),
                                 y0=py(fy0 + 5.8), y1=py(fy0 + 5.8), line=dict(color=BLUE, width=0.8),
                                 layer="above"))
    for txt, yy in (("CLOSE", fy0 + 3), ("R", fy0 + 5.8)):
        layout["annotations"].append(dict(text=txt, x=px(fx0 + 15), y=py(yy), xref="paper", yref="paper",
                                          showarrow=False, xanchor="left", yanchor="middle",
                                          font=dict(family=SANS, size=2.4, color="black")))

fig.update_layout(**layout)
fig.write_html("out.html", config={"displayModeBar": False, "staticPlot": True},
               post_script="document.body.style.margin='0';")
